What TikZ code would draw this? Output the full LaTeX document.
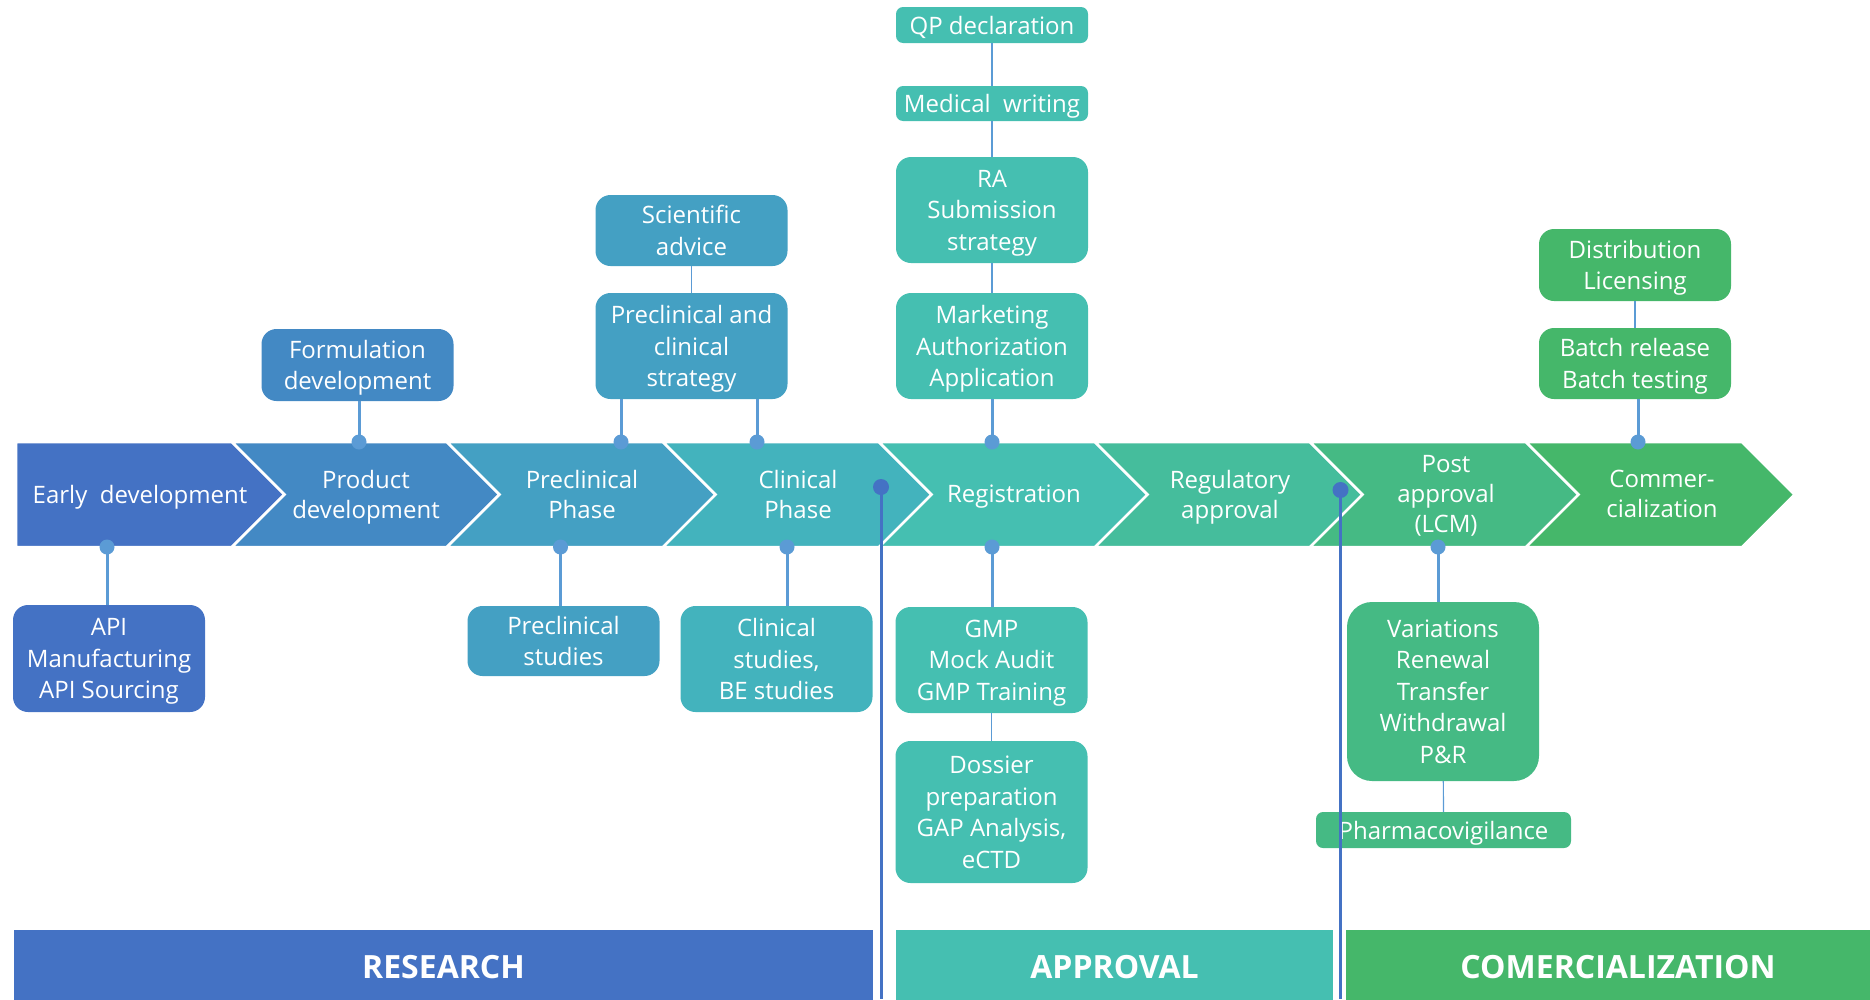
\documentclass[tikz,border=0pt]{standalone}
\usepackage{fontspec}
\setmainfont{Open Sans}
\usetikzlibrary{positioning}
\definecolor{segA}{HTML}{4472C4}
\definecolor{segB}{HTML}{4389C4}
\definecolor{segC}{HTML}{44A0C3}
\definecolor{segD}{HTML}{43B3BD}
\definecolor{segE}{HTML}{45BFB1}
\definecolor{segF}{HTML}{45BD9C}
\definecolor{segG}{HTML}{45BA84}
\definecolor{segH}{HTML}{45B76A}
\definecolor{linkblue}{HTML}{5B9BD5}
\definecolor{darkline}{HTML}{4472C4}
\tikzset{
	phase/.style={draw=white, line width=2.5pt},
	phasetext/.style={text=white, align=center, text depth=0pt, font=\fontsize{24pt}{30pt}\selectfont},
	note/.style={rounded corners=15pt, text=white, align=center, text depth=-0.5pt, minimum width=192pt, inner sep=0pt, font=\fontsize{24pt}{31.5pt}\selectfont},
	joint/.style={circle, fill=linkblue, inner sep=0pt, minimum size=15pt},
	bigjoint/.style={circle, fill=darkline, inner sep=0pt, minimum size=16pt},
	link/.style={draw=linkblue, line width=3pt},
	thinlink/.style={draw=linkblue, line width=1.2pt},
	divider/.style={draw=darkline, line width=3pt},
	stagebar/.style={text=white, font=\fontsize{32pt}{38pt}\selectfont\bfseries, minimum height=74pt, inner sep=0pt}
}

\begin{document}
\begin{tikzpicture}[x=1pt, y=-1pt]
	\useasboundingbox (0,0) rectangle (1870,999);

	% phase arrow
	\filldraw[phase, fill=segA] (16,442) -- (232,442) -- (284.5,494.5) -- (232,547) -- (16,547) -- cycle;
	\filldraw[phase, fill=segB] (232,442) -- (447,442) -- (499.5,494.5) -- (447,547) -- (232,547) -- (284.5,494.5) -- cycle;
	\filldraw[phase, fill=segC] (447,442) -- (663,442) -- (715.5,494.5) -- (663,547) -- (447,547) -- (499.5,494.5) -- cycle;
	\filldraw[phase, fill=segD] (663,442) -- (879,442) -- (931.5,494.5) -- (879,547) -- (663,547) -- (715.5,494.5) -- cycle;
	\filldraw[phase, fill=segE] (879,442) -- (1095,442) -- (1147.5,494.5) -- (1095,547) -- (879,547) -- (931.5,494.5) -- cycle;
	\filldraw[phase, fill=segF] (1095,442) -- (1310,442) -- (1362.5,494.5) -- (1310,547) -- (1095,547) -- (1147.5,494.5) -- cycle;
	\filldraw[phase, fill=segG] (1310,442) -- (1526,442) -- (1578.5,494.5) -- (1526,547) -- (1310,547) -- (1362.5,494.5) -- cycle;
	\filldraw[phase, fill=segH] (1526,442) -- (1742,442) -- (1794.5,494.5) -- (1742,547) -- (1526,547) -- (1578.5,494.5) -- cycle;

	\node[phasetext] (early) at (140,494) {Early\ \ development};
	\node[phasetext] (product) at (366,494) {Product\\development};
	\node[phasetext] (preclin) at (582,494) {Preclinical\\Phase};
	\node[phasetext] (clin) at (798,494) {Clinical\\Phase};
	\node[phasetext] (regist) at (1014,494) {Registration};
	\node[phasetext] (regul) at (1230,494) {Regulatory\\approval};
	\node[phasetext] (post) at (1446,494) {Post\\approval\\(LCM)};
	\node[phasetext] (commer) at (1662,494) {Commer-\\cialization};

	% boxes above
	\node[note, fill=segB, minimum height=72pt] (formul) at (357.5,365) {Formulation\\development};
	\node[note, fill=segC, minimum height=71pt] (sciadv) at (691.5,230.5) {Scientific\\advice};
	\node[note, fill=segC, minimum height=106pt] (strat) at (691.5,346) {Preclinical and\\clinical\\strategy};
	\node[note, fill=segE, minimum height=36pt, rounded corners=7pt] (qp) at (992,25) {QP declaration};
	\node[note, fill=segE, minimum height=35pt, rounded corners=7pt] (medw) at (992,103.5) {Medical\ \ writing};
	\node[note, fill=segE, minimum height=106pt] (ra) at (992,210) {RA\\Submission\\strategy};
	\node[note, fill=segE, minimum height=106pt] (maa) at (992,346) {Marketing\\Authorization\\Application};
	\node[note, fill=segH, minimum height=72pt] (distr) at (1635,265) {Distribution\\Licensing};
	\node[note, fill=segH, minimum height=71pt] (batch) at (1635,363.5) {Batch release\\Batch testing};

	% boxes below
	\node[note, fill=segA, minimum height=107pt] (api) at (109,658.5) {API\\Manufacturing\\API Sourcing};
	\node[note, fill=segC, minimum height=70pt] (prestud) at (563.5,641) {Preclinical\\studies};
	\node[note, fill=segD, minimum height=106pt] (clinstud) at (776.5,659) {Clinical\\studies,\\BE studies};
	\node[note, fill=segE, minimum height=106pt] (gmp) at (991.5,660) {GMP\\Mock Audit\\GMP Training};
	\node[note, fill=segE, minimum height=142pt] (dossier) at (991.5,812) {Dossier\\preparation\\GAP Analysis,\\eCTD};
	\node[note, fill=segG, minimum height=179pt, rounded corners=25pt] (var) at (1443,691.5) {Variations\\Renewal\\Transfer\\Withdrawal\\P\&R};
	\node[note, fill=segG, minimum height=36pt, minimum width=255pt, rounded corners=7pt] (pv) at (1443.5,830) {Pharmacovigilance};

	% joints on the arrow
	\node[joint] (jformul) at (359,442) {};
	\node[joint] (jstratA) at (621,442) {};
	\node[joint] (jstratB) at (757,442) {};
	\node[joint] (jmaa) at (992,442) {};
	\node[joint] (jbatch) at (1638,442) {};
	\node[joint] (japi) at (107,547) {};
	\node[joint] (jprestud) at (560.5,547) {};
	\node[joint] (jclinstud) at (787,547) {};
	\node[joint] (jgmp) at (992,547) {};
	\node[joint] (jvar) at (1438,547) {};

	\draw[link] (jformul.center) -- (jformul |- formul.south);
	\draw[link] (jstratA.center) -- (jstratA |- strat.south);
	\draw[link] (jstratB.center) -- (jstratB |- strat.south);
	\draw[link] (jmaa.center) -- (jmaa |- maa.south);
	\draw[link] (jbatch.center) -- (jbatch |- batch.south);
	\draw[link] (japi.center) -- (japi |- api.north);
	\draw[link] (jprestud.center) -- (jprestud |- prestud.north);
	\draw[link] (jclinstud.center) -- (jclinstud |- clinstud.north);
	\draw[link] (jgmp.center) -- (jgmp |- gmp.north);
	\draw[link] (jvar.center) -- (jvar |- var.north);

	\draw[thinlink] (sciadv) -- (strat);
	\draw[thinlink] (qp) -- (medw);
	\draw[thinlink] (medw) -- (ra);
	\draw[thinlink] (ra) -- (maa);
	\draw[thinlink] (gmp) -- (dossier);
	\draw[thinlink] (var) -- (pv);
	\draw[thinlink] (distr) -- (batch);

	% stages
	\node[stagebar, fill=segA, minimum width=859pt] (research) at (443.5,967) {RESEARCH};
	\node[stagebar, fill=segE, minimum width=437pt] (approval) at (1114.5,967) {APPROVAL};
	\node[stagebar, fill=segH, minimum width=544pt] (comm) at (1618,967) {COMERCIALIZATION};

	\node[bigjoint] (gateA) at (881,487) {};
	\coordinate (gateAend) at (881,999);
	\draw[divider] (gateA.center) -- (gateAend);
	\node[bigjoint] (gateB) at (1340.5,490) {};
	\coordinate (gateBend) at (1340.5,999);
	\draw[divider] (gateB.center) -- (gateBend);
\end{tikzpicture}
\end{document}
